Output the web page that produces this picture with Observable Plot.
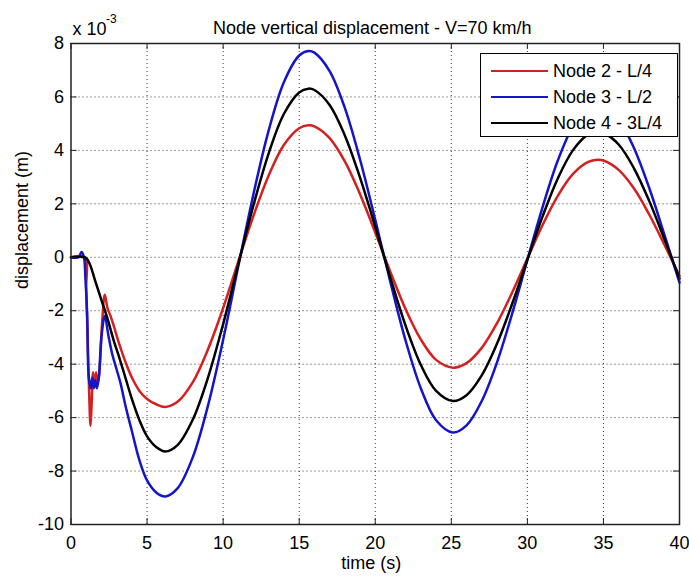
<!DOCTYPE html>
<html><head><meta charset="utf-8">
<script src="https://cdn.jsdelivr.net/npm/d3@7"></script>
<script src="https://cdn.jsdelivr.net/npm/@observablehq/plot@0.6"></script>
<style>
body{margin:0;background:#fff;}
#wrap{position:relative;width:689px;height:577px;font-family:"Liberation Sans",Arial,sans-serif;}
#legend{position:absolute;left:480px;top:53px;width:198px;height:84px;box-sizing:border-box;border:1px solid #000;background:#fff;padding-top:4px;}
.row{height:26px;display:flex;align-items:center;font-size:18px;color:#000;white-space:nowrap;}
.sw{display:inline-block;width:57px;height:2.5px;margin-left:10px;margin-right:5px;}
</style></head><body><div id="wrap"></div>
<script>
// Values in units of 1e-3 m (axis shows "x 10^-3")
const seriesNames = ["Node 2 - L/4", "Node 3 - L/2", "Node 4 - 3L/4"];
const seriesColors = ["#d42020", "#1414c8", "#000000"];

const tRed = [0,0.9,1.0,1.1,1.2,1.28,1.35,1.45,1.55,1.65,1.75,1.85,2.05,2.22,2.4,2.6,2.8,3.2,3.6,4.0,4.5,5.0,5.6,6.2,
  7,8,9,10,11,12,13,14,15,15.6,16,17,18,19,20,21,22,23,24,25.1,26,27,28,29,30,31,32,33,34,34.6,35,36,37,38,39,40];
const red = [0,0,-1.2,-3.2,-5.2,-6.3,-5.6,-4.3,-4.8,-4.3,-4.7,-4.4,-2.4,-1.4,-1.9,-2.2,-2.55,-3.3,-3.95,-4.5,-5.0,-5.3,-5.5,-5.6,
  -5.41,-4.68,-3.45,-1.90,-0.15,1.56,3.07,4.21,4.83,4.94,4.90,4.46,3.59,2.36,0.93,-0.56,-1.95,-3.08,-3.84,-4.13,
  -3.96,-3.39,-2.47,-1.32,-0.05,1.21,2.30,3.12,3.57,3.65,3.62,3.27,2.58,1.61,0.48,-0.70];

const tBlue = [0,0.5,0.69,0.85,0.95,1.06,1.17,1.3,1.4,1.5,1.6,1.7,1.83,2.0,2.22,2.45,2.7,3.0,3.25,3.6,4.0,4.5,5.0,5.6,6.2,
  7,8,9,10,11,12,13,14,15,15.6,16,17,18,19,20,21,22,23,24,25.1,26,27,28,29,30,31,32,33,34,34.6,35,36,37,38,39,40];
const blue = [0,0,0.2,0,-0.8,-2.1,-4.5,-4.9,-4.5,-4.9,-4.6,-4.9,-4.5,-3.0,-2.2,-2.9,-3.6,-4.2,-4.7,-5.6,-6.5,-7.6,-8.35,-8.8,-8.95,
  -8.65,-7.49,-5.56,-3.09,-0.33,2.38,4.76,6.56,7.55,7.72,7.66,6.97,5.59,3.66,1.40,-0.94,-3.13,-4.91,-6.10,-6.56,
  -6.29,-5.38,-3.94,-2.11,-0.10,1.88,3.62,4.91,5.63,5.75,5.70,5.17,4.10,2.61,0.86,-0.95];

const tBlack = [0,0.9,1.1,1.3,1.6,2.0,2.4,2.8,3.2,3.6,4.0,4.5,5.0,5.6,6.2,
  7,8,9,10,11,12,13,14,15,15.6,16,17,18,19,20,21,22,23,24,25.1,26,27,28,29,30,31,32,33,34,34.6,35,36,37,38,39,40];
const black = [0,0,-0.1,-0.35,-0.9,-1.6,-2.3,-3.1,-3.8,-4.55,-5.3,-6.1,-6.7,-7.1,-7.27,
  -7.03,-6.08,-4.51,-2.50,-0.25,1.96,3.90,5.37,6.17,6.31,6.26,5.70,4.56,2.98,1.14,-0.78,-2.57,-4.03,-5.00,-5.38,
  -5.16,-4.42,-3.24,-1.74,-0.09,1.53,2.95,4.01,4.60,4.70,4.66,4.22,3.34,2.12,0.69,-0.80];

const xTicks = [0,5,10,15,20,25,30,35,40];
const yTicks = [-10,-8,-6,-4,-2,0,2,4,6,8];
const titleText = "Node vertical displacement - V=70 km/h";
const xLabel = "time (s)";
const yLabel = "displacement (m)";
const expBase = "x 10";
const expPow = "-3";

const rows = [];
[[tRed, red], [tBlue, blue], [tBlack, black]].forEach(([ts, vs], i) => {
  ts.forEach((t, j) => rows.push({t, v: vs[j], series: seriesNames[i]}));
});

const W = 689, H = 577, mL = 70.5, mR = 10, mT = 43, mB = 53;
const frameW = W - mL - mR, frameH = H - mT - mB, tk = 6;
const inner = d => d !== xTicks[0] && d !== xTicks[xTicks.length-1];
const innerY = d => d !== yTicks[0] && d !== yTicks[yTicks.length-1];
const gridStyle = {stroke: "#000", strokeOpacity: 0.8, strokeDasharray: "1,3", strokeWidth: 1};

const chart = Plot.plot({
  width: W, height: H,
  marginLeft: mL, marginRight: mR, marginTop: mT, marginBottom: mB,
  style: {fontFamily: "'Liberation Sans', Arial, sans-serif", fontSize: "18px", background: "#fff", color: "#000"},
  x: {domain: [0, 40], ticks: xTicks, tickSize: 0, tickPadding: 12, tickFormat: d => String(d), label: null},
  y: {domain: [-10, 8], ticks: yTicks, tickSize: 0, tickPadding: 7, tickFormat: d => String(d), label: null},
  color: {domain: seriesNames, range: seriesColors},
  marks: [
    Plot.ruleX(xTicks.filter(inner), {x: d => d, ...gridStyle}),
    Plot.ruleY(yTicks.filter(innerY), {y: d => d, ...gridStyle}),
    Plot.line(rows, {x: "t", y: "v", z: "series", stroke: "series", strokeWidth: 2.5, curve: "catmull-rom"}),
    Plot.ruleX(xTicks, {x: d => d, insetTop: frameH - tk, stroke: "#222"}),
    Plot.ruleX(xTicks, {x: d => d, insetBottom: frameH - tk, stroke: "#222"}),
    Plot.ruleY(yTicks, {y: d => d, insetRight: frameW - tk, stroke: "#222"}),
    Plot.ruleY(yTicks, {y: d => d, insetLeft: frameW - tk, stroke: "#222"}),
    Plot.frame({stroke: "#222", strokeWidth: 1.5}),
    Plot.text([titleText], {frameAnchor: "top", dy: -22, dx: -3, fontSize: 18}),
    Plot.text([xLabel], {frameAnchor: "bottom", dy: 44, dx: -4, fontSize: 18}),
    Plot.text([yLabel], {frameAnchor: "left", rotate: -90, dx: -48.5, dy: 5, fontSize: 18}),
    Plot.text([expBase], {frameAnchor: "top-left", textAnchor: "start", lineAnchor: "bottom", dx: 1.5, dy: -9, fontSize: 18}),
    Plot.text([expPow], {frameAnchor: "top-left", textAnchor: "start", lineAnchor: "bottom", dx: 35, dy: -21, fontSize: 12})
  ]
});
const wrap = document.getElementById("wrap");
wrap.appendChild(chart);

const legend = document.createElement("div");
legend.id = "legend";
seriesNames.forEach((n, i) => {
  const row = document.createElement("div");
  row.className = "row";
  const sw = document.createElement("span");
  sw.className = "sw";
  sw.style.background = seriesColors[i];
  const tx = document.createElement("span");
  tx.textContent = n;
  row.appendChild(sw); row.appendChild(tx);
  legend.appendChild(row);
});
wrap.appendChild(legend);
</script></body></html>
